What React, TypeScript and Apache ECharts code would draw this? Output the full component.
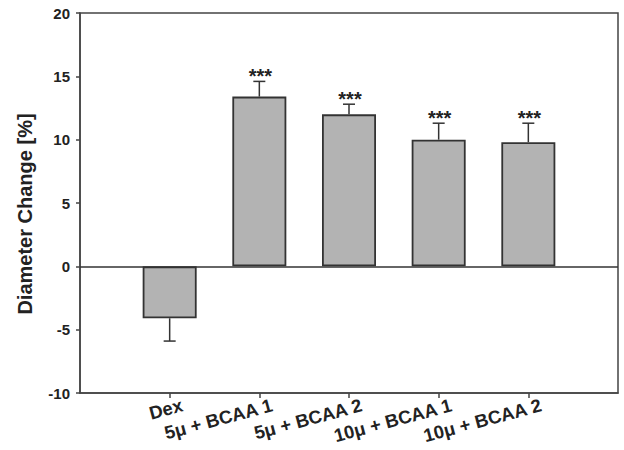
import React, { useEffect, useRef } from "react";
import * as echarts from "echarts";

const categories = ["Dex", "5μ + BCAA 1", "5μ + BCAA 2", "10μ + BCAA 1", "10μ + BCAA 2"];
const values = [-4.1, 13.4, 12.0, 10.0, 9.8];
const errors = [1.8, 1.2, 0.8, 1.3, 1.5];
const stars = ["", "***", "***", "***", "***"];
const yTicks = { min: -10, max: 20, interval: 5 };

export default function App() {
  const ref = useRef<HTMLDivElement>(null);
  useEffect(() => {
    if (!ref.current) return;
    const chart = echarts.init(ref.current, null, { renderer: "svg" });
    const cats = ["", ...categories, ""];
    const barData = [null, ...values, null];
    const errData = values.map((v, i) => [i + 1, v, errors[i], stars[i]]);
    const font = "'Liberation Sans', Arial, sans-serif";
    chart.setOption({
      animation: false,
      grid: {
        left: 80,
        right: 6,
        top: 13,
        bottom: 57,
        show: true,
        borderColor: "#444",
        borderWidth: 1.5,
        backgroundColor: "transparent",
      },
      xAxis: {
        type: "category",
        data: cats,
        boundaryGap: false,
        axisLine: { show: true, onZero: false, lineStyle: { color: "#444", width: 1.5 } },
        axisTick: {
          show: true,
          length: 5,
          interval: (i: number) => i > 0 && i < cats.length - 1,
          lineStyle: { color: "#444", width: 1.5 },
        },
        axisLabel: {
          interval: 0,
          rotate: 15,
          margin: 15,
          fontSize: 18.5,
          fontWeight: "bold",
          fontFamily: font,
          color: "#222",
          padding: [0, -13, 0, 0],
        },
        splitLine: { show: false },
      },
      yAxis: {
        type: "value",
        min: yTicks.min,
        max: yTicks.max,
        interval: yTicks.interval,
        name: "Diameter Change [%]",
        nameLocation: "middle",
        nameGap: 45,
        nameTextStyle: {
          fontSize: 20,
          fontWeight: "bold",
          fontFamily: font,
          color: "#222",
          padding: [0, 22, 0, 0],
        },
        axisLine: { show: true, lineStyle: { color: "#444", width: 1.5 } },
        axisTick: { show: true, length: 4, lineStyle: { color: "#444", width: 1.5 } },
        axisLabel: { fontSize: 15, fontWeight: "bold", fontFamily: font, color: "#222", margin: 10 },
        splitLine: { show: false },
      },
      series: [
        {
          type: "bar",
          data: barData,
          barWidth: 54,
          itemStyle: { color: "#b3b3b3", borderColor: "#333", borderWidth: 1.8 },
          markLine: {
            silent: true,
            symbol: "none",
            label: { show: false },
            lineStyle: { color: "#333", width: 1.5, type: "solid" },
            data: [{ yAxis: 0 }],
          },
        },
        {
          type: "custom",
          data: errData,
          z: 5,
          renderItem: (params: any, api: any) => {
            const x = api.value(0);
            const v = api.value(1);
            const e = api.value(2);
            const s = errData[params.dataIndex][3] as string;
            const end = v >= 0 ? v + e : v - e;
            const p0 = api.coord([x, v]);
            const p1 = api.coord([x, end]);
            const style = { stroke: "#333", lineWidth: 1.5 };
            const children: any[] = [
              { type: "line", shape: { x1: p0[0], y1: p0[1], x2: p1[0], y2: p1[1] }, style },
              { type: "line", shape: { x1: p1[0] - 6, y1: p1[1], x2: p1[0] + 6, y2: p1[1] }, style },
            ];
            if (s) {
              children.push({
                type: "text",
                x: p1[0] + 1,
                y: p1[1] - 5,
                style: {
                  text: s,
                  fill: "#222",
                  font: `bold 20px ${font}`,
                  align: "center",
                  verticalAlign: "middle",
                },
              });
            }
            return { type: "group", children };
          },
        },
      ],
    });
    return () => chart.dispose();
  }, []);
  return (
    <div
      ref={ref}
      style={{ position: "fixed", left: 0, top: 0, width: 624, height: 450, background: "#fff" }}
    />
  );
}
